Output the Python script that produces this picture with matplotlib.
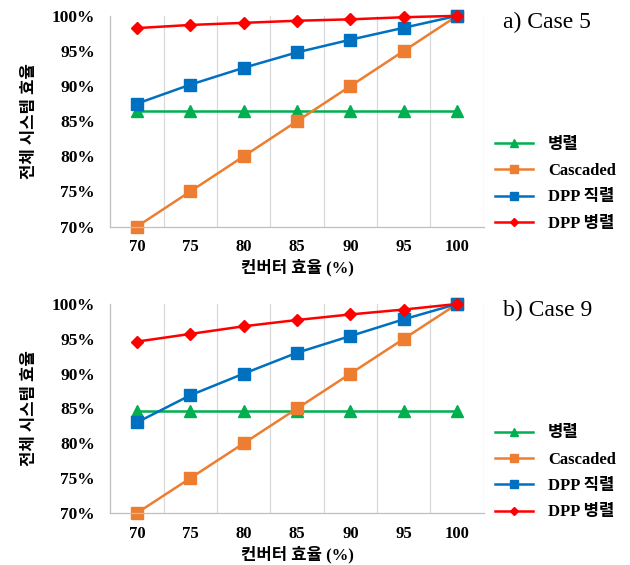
import numpy as np
import matplotlib
matplotlib.use("Agg")
import matplotlib.pyplot as plt

# Data
conv_eff = ["70", "75", "80", "85", "90", "95", "100"]
labels = ["병렬", "Cascaded", "DPP 직렬", "DPP 병렬"]

case5_parallel = [86.5, 86.5, 86.5, 86.5, 86.5, 86.5, 86.5]
case5_cascaded = [70, 75, 80, 85, 90, 95, 100]
case5_dpp_series = [87.5, 90.2, 92.6, 94.8, 96.6, 98.3, 100]
case5_dpp_parallel = [98.25, 98.7, 99.0, 99.3, 99.5, 99.8, 100]

case9_parallel = [84.6, 84.6, 84.6, 84.6, 84.6, 84.6, 84.6]
case9_cascaded = [70, 75, 80, 85, 90, 95, 100]
case9_dpp_series = [83.0, 86.9, 90.0, 93.0, 95.4, 97.8, 100]
case9_dpp_parallel = [94.6, 95.7, 96.8, 97.7, 98.5, 99.2, 100]

y_ticks = [70, 75, 80, 85, 90, 95, 100]

FONT = ["Liberation Serif", "Noto Sans CJK KR", "DejaVu Sans"]
plt.rcParams["font.family"] = FONT

styles = [
    dict(color="#00B050", marker="^", markersize=8),
    dict(color="#ED7D31", marker="s", markersize=8),
    dict(color="#0070C0", marker="s", markersize=9),
    dict(color="#FF0000", marker="D", markersize=6),
]

fig = plt.figure(figsize=(6.3, 5.65), dpi=100)
ax_a = fig.add_axes([0.175, 0.599, 0.593, 0.373])
ax_b = fig.add_axes([0.175, 0.092, 0.593, 0.370])

panels = [
    (ax_a, [case5_parallel, case5_cascaded, case5_dpp_series, case5_dpp_parallel], "a) Case 5", 0.961, 0.674),
    (ax_b, [case9_parallel, case9_cascaded, case9_dpp_series, case9_dpp_parallel], "b) Case 9", 0.451, 0.163),
]

x = np.arange(len(conv_eff))
for ax, series, case_label, case_y, leg_y in panels:
    for vals, lab, st in zip(series, labels, styles):
        ax.plot(x, vals, label=lab, linewidth=1.8, clip_on=False, **st)

    ax.set_xlim(-0.5, len(conv_eff) - 0.5)
    ax.set_ylim(70, 100)
    ax.set_xticks(x)
    ax.set_xticklabels(conv_eff, fontweight="bold", fontsize=12)
    ax.set_yticks(y_ticks)
    ax.set_yticklabels([f"{v}%" for v in y_ticks], fontweight="bold", fontsize=12.5)
    ax.tick_params(axis="both", length=0)
    ax.tick_params(axis="y", pad=11)
    ax.tick_params(axis="x", pad=9)

    # vertical gridlines at category boundaries
    for b in np.arange(0.5, len(conv_eff) + 0.5, 1.0):
        ax.axvline(b, color="#D9D9D9", linewidth=0.9, zorder=0)

    for side in ["top", "right"]:
        ax.spines[side].set_visible(False)
    for side in ["left", "bottom"]:
        ax.spines[side].set_color("#BFBFBF")
        ax.spines[side].set_linewidth(0.9)

    ax.set_xlabel("컨버터 효율 (%)", fontweight="bold", fontsize=12, labelpad=3)
    ax.set_ylabel("전체 시스템 효율", fontweight="bold", fontsize=12, labelpad=10)

    ax.legend(loc="center left", bbox_to_anchor=(0.785, leg_y), bbox_transform=fig.transFigure,
              frameon=False, borderpad=0, borderaxespad=0, handlelength=2.3,
              handletextpad=0.9, labelspacing=0.62, markerscale=0.7,
              prop=dict(family=FONT, weight="bold", size=12))

    fig.text(0.798, case_y, case_label, fontsize=17, va="center", ha="left")

fig.savefig("out.png", dpi=100)
